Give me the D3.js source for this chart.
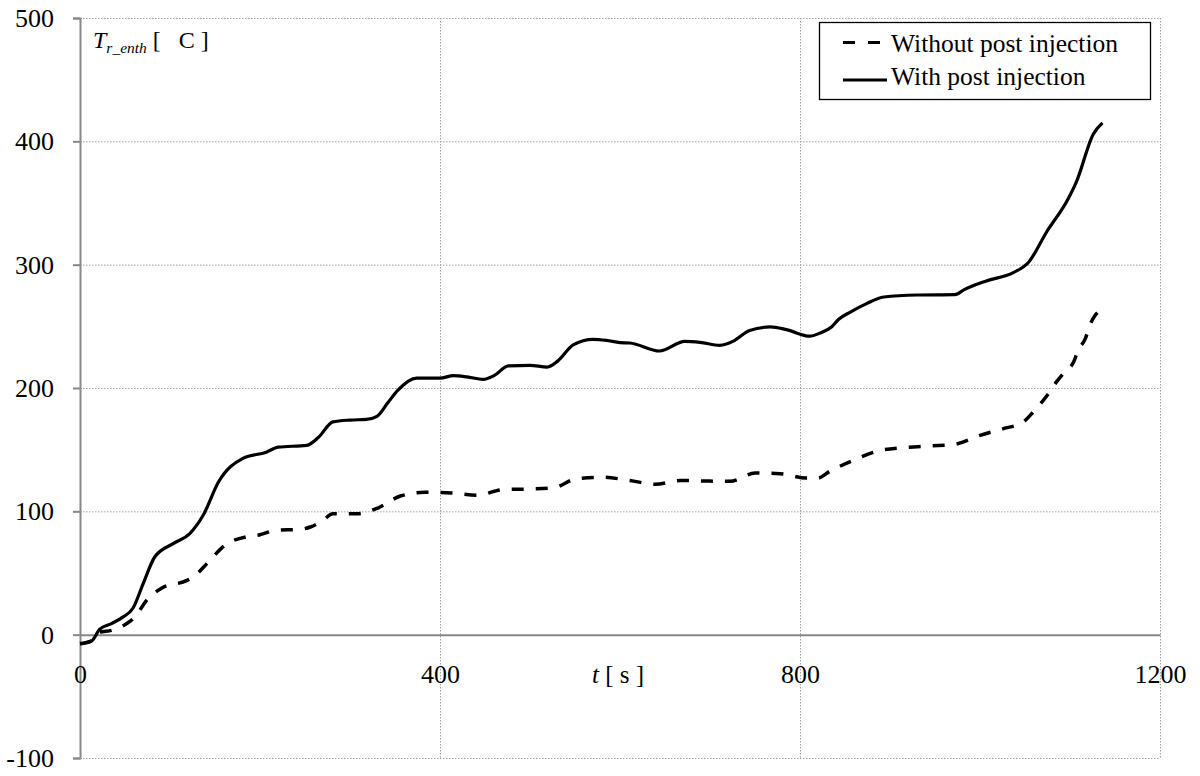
<!DOCTYPE html>
<html><head><meta charset="utf-8">
<script src="https://cdn.jsdelivr.net/npm/d3@7"></script>
<style>
body{margin:0;background:#fff;}
svg text{font-family:'Liberation Serif','Times New Roman',Times,'DejaVu Serif',serif !important;fill:#000;white-space:pre;}
</style></head>
<body><svg id="c" width="1200" height="776"></svg>
<script>
const xTicks = [0, 400, 800, 1200];
const yTicks = [-100, 0, 100, 200, 300, 400, 500];
const seriesNames = ["Without post injection", "With post injection"];

const withT = [0,13,22,35,48,59,70,83,104,122,137,154,181,207,220,252,265,281,300,318,330,342,353,374,400,415,430,448,460,476,500,519,531,548,570,585,600,611,644,672,689,711,726,744,767,785,811,822,835,843,856,874,893,930,972,983,1007,1037,1054,1074,1098,1107,1126,1136];
const withV = [-7.3,-5,4.5,9,14.4,21.6,41,63,74,82,97,124,143,148,152,153.5,160,172.5,174,174.5,177,188,198,208,208,210,209,207,210,218,218.4,217,222,235,239.5,238.6,236.8,236.5,230,237.8,237,234.6,238,246.7,249.5,247.3,242,244.5,249.5,255.7,261.6,268.4,273.8,275.4,275.7,280,286.8,293.5,302,326.5,353.5,367,406,415];

const withoutT = [0,13,22,35,52,61,74,91,119,128,141,161,187,200,217,244,256,270,281,307,331,356,383,413,441,470,498,526,552,581,611,639,667,694,722,750,778,807,820,833,859,887,915,944,972,1000,1026,1048,1056,1067,1076,1085,1094,1104,1109,1117,1122,1128,1136];
const withoutV = [-7.3,-5,2,3.5,9,14.3,27.8,37.8,44,48,57.6,72.4,79.7,81,84.6,85.4,87.3,92.7,98,98,102.7,112.4,115.4,114.9,113,117.6,118.1,119,126.5,127.6,125,121.9,125,124.6,124.3,131,130.5,127,127,132.4,141.3,149,151.6,153,154.3,161.6,167,172.4,178,187,195.4,205,213,221,230.5,240,250.8,259,263.8];

const FONT = "'Liberation Serif','Times New Roman',Times,'DejaVu Serif',serif";
const svg = d3.select("#c");
const L = 80, R = 1160, T = 18, B = 758;
const x = d3.scaleLinear().domain([0,1200]).range([L,R]);
const y = d3.scaleLinear().domain([-100,500]).range([B,T]);

// gridlines (dotted)
const grid = svg.append("g").attr("stroke","#a0a0a0").attr("stroke-width",1).attr("stroke-dasharray","1.5,1.5");
grid.selectAll("line.h").data(yTicks.filter(v=>v!==0)).join("line")
  .attr("x1",L).attr("x2",R).attr("y1",d=>y(d)+0.5).attr("y2",d=>y(d)+0.5);
grid.selectAll("line.v").data(xTicks.filter(v=>v!==0)).join("line")
  .attr("x1",d=>x(d)+0.5).attr("x2",d=>x(d)+0.5).attr("y1",T).attr("y2",B);

// y axis
const yAxis = d3.axisLeft(y).tickValues(yTicks).tickSize(7).tickPadding(19).tickFormat(d=>String(d));
const ga = svg.append("g").attr("transform",`translate(${L},0)`).call(yAxis).attr("font-family",FONT);
ga.select(".domain").attr("stroke","#888").attr("stroke-width",2);
ga.selectAll(".tick line").attr("stroke","#888").attr("stroke-width",2);
ga.selectAll(".tick text").attr("font-size",26).attr("dy","0.33em").attr("fill","#000");

// x axis at y=0
const xAxis = d3.axisBottom(x).tickValues(xTicks).tickSize(0).tickPadding(30).tickFormat(d=>String(d));
const gx = svg.append("g").attr("transform",`translate(0,${y(0)})`).call(xAxis).attr("font-family",FONT);
gx.select(".domain").attr("stroke","#888").attr("stroke-width",2);
gx.selectAll(".tick text").attr("font-size",26).attr("fill","#000");

// lines
const line = d3.line().x(d=>x(d[0])).y(d=>y(d[1])).curve(d3.curveMonotoneX);
const withData = withT.map((t,i)=>[t,withV[i]]);
const withoutData = withoutT.map((t,i)=>[t,withoutV[i]]);
svg.append("path").datum(withoutData).attr("d",line).attr("fill","none").attr("stroke","#000")
  .attr("stroke-width",3.5).attr("stroke-dasharray","12,12");
svg.append("path").datum(withData).attr("d",line).attr("fill","none").attr("stroke","#000")
  .attr("stroke-width",3.2).attr("stroke-linejoin","round");

// axis titles
const yl = svg.append("text").attr("x",93).attr("y",48).attr("font-size",24).attr("font-family",FONT);
yl.append("tspan").attr("font-style","italic").text("T");
yl.append("tspan").attr("font-style","italic").attr("font-size",15.5).attr("dy",5).text("r_enth");
yl.append("tspan").attr("dy",-5).text("\u00a0[\u00a0\u00a0\u00a0C\u00a0]");

const xl = svg.append("text").attr("x",592).attr("y",683).attr("font-size",25).attr("font-family",FONT);
xl.append("tspan").attr("font-style","italic").text("t");
xl.append("tspan").text("\u00a0[\u00a0s\u00a0]");

// legend
const lg = svg.append("g").attr("font-family",FONT);
lg.append("rect").attr("x",819.5).attr("y",22.5).attr("width",331).attr("height",77)
  .attr("fill","#fff").attr("stroke","#000").attr("stroke-width",1.3);
const legItems = [{name:seriesNames[0],dash:"12,13",yy:42.5,ty:52},{name:seriesNames[1],dash:null,yy:80,ty:85}];
legItems.forEach(it=>{
  lg.append("line").attr("x1",843).attr("x2",887).attr("y1",it.yy).attr("y2",it.yy)
    .attr("stroke","#000").attr("stroke-width",3.2).attr("stroke-dasharray",it.dash);
  lg.append("text").attr("x",891).attr("y",it.ty).attr("font-size",25.5).text(it.name);
});
</script></body></html>
